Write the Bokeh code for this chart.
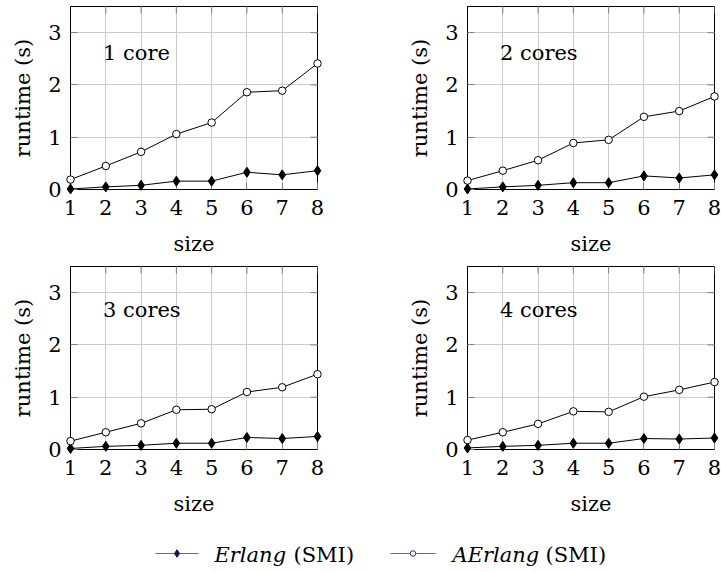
from bokeh.plotting import figure
from bokeh.layouts import column, row
from bokeh.models import FixedTicker, Range1d, Label
from bokeh.embed import file_html
from bokeh.resources import INLINE

# ---- data ----
sizes = [1, 2, 3, 4, 5, 6, 7, 8]
x_ticks = [1, 2, 3, 4, 5, 6, 7, 8]
y_ticks = [0, 1, 2, 3]
panel_titles = ["1 core", "2 cores", "3 cores", "4 cores"]

erlang_1 = [0.01, 0.05, 0.08, 0.16, 0.16, 0.33, 0.28, 0.36]
aerlang_1 = [0.19, 0.45, 0.72, 1.06, 1.28, 1.86, 1.89, 2.41]
erlang_2 = [0.01, 0.05, 0.08, 0.13, 0.13, 0.26, 0.22, 0.28]
aerlang_2 = [0.17, 0.36, 0.56, 0.89, 0.95, 1.39, 1.50, 1.78]
erlang_3 = [0.02, 0.06, 0.08, 0.12, 0.12, 0.23, 0.21, 0.25]
aerlang_3 = [0.16, 0.33, 0.50, 0.76, 0.77, 1.10, 1.19, 1.44]
erlang_4 = [0.03, 0.06, 0.08, 0.12, 0.12, 0.21, 0.20, 0.22]
aerlang_4 = [0.18, 0.33, 0.49, 0.73, 0.72, 1.01, 1.14, 1.29]

series_names = ["Erlang", "AErlang"]
series_suffix = "(SMI)"
x_label = "size"
y_label = "runtime (s)"

X_MIN, X_MAX, Y_MIN, Y_MAX = 1, 8, 0, 3.5
FONT = "DejaVu Serif"
FS = "21px"
GRID = "#cccccc"
TICK = "#7f7f7f"


def style_axis(ax):
    ax.axis_line_color = "black"
    ax.axis_line_width = 1
    ax.major_tick_in = 7
    ax.major_tick_out = 0
    ax.major_tick_line_color = TICK
    ax.minor_tick_line_color = None
    ax.major_label_text_font = FONT
    ax.major_label_text_font_size = FS
    ax.major_label_text_color = "black"
    ax.axis_label_text_font = FONT
    ax.axis_label_text_font_size = FS
    ax.axis_label_text_font_style = "normal"
    ax.axis_label_text_color = "black"


def make_panel(erl, aer, title, title_y, width, height, mb_left, mb_right, mb_top, mb_bottom):
    p = figure(width=width, height=height,
               x_range=Range1d(X_MIN, X_MAX), y_range=Range1d(Y_MIN, Y_MAX),
               output_backend="svg", toolbar_location=None,
               min_border_left=mb_left, min_border_right=mb_right,
               min_border_top=mb_top, min_border_bottom=mb_bottom)
    p.outline_line_color = "black"
    p.outline_line_width = 1
    p.background_fill_color = "white"
    p.border_fill_color = "white"
    p.xaxis.ticker = FixedTicker(ticks=x_ticks)
    p.yaxis.ticker = FixedTicker(ticks=y_ticks)
    for ax in p.axis:
        style_axis(ax)
    p.xaxis.axis_label = x_label
    p.yaxis.axis_label = y_label
    p.xaxis.major_label_standoff = 10
    p.xaxis.axis_label_standoff = 14
    p.yaxis.major_label_standoff = 9
    p.yaxis.axis_label_standoff = 10
    p.xgrid.ticker = FixedTicker(ticks=x_ticks)
    p.ygrid.ticker = FixedTicker(ticks=y_ticks)
    p.grid.grid_line_color = GRID
    p.grid.grid_line_width = 1

    # inward ticks on the right and top edges (half of each dash is clipped away)
    p.scatter([X_MAX] * len(y_ticks), y_ticks, marker="dash", size=14,
              line_color=TICK, line_width=1)
    p.scatter(x_ticks, [Y_MAX] * len(x_ticks), marker="dash", size=14, angle=1.5707963,
              line_color=TICK, line_width=1)

    p.line(sizes, erl, line_color="black", line_width=1)
    p.line(sizes, aer, line_color="black", line_width=1)
    p.scatter(sizes, erl, marker="diamond", size=10, fill_color="black",
              line_color="black", line_width=1, level="overlay")
    p.scatter(sizes, aer, marker="circle", size=7.5, fill_color="white",
              line_color="black", line_width=1, level="overlay")

    p.add_layout(Label(x=1.92, y=title_y, text=title, text_font=FONT,
                       text_font_size=FS, text_color="black",
                       text_baseline="middle", text_align="left"))
    return p


p1 = make_panel(erlang_1, aerlang_1, panel_titles[0], 2.62, 405, 258, 70, 88, 6, 69)
p2 = make_panel(erlang_2, aerlang_2, panel_titles[1], 2.62, 316, 258, 62, 7, 6, 69)
p3 = make_panel(erlang_3, aerlang_3, panel_titles[2], 2.66, 405, 262, 70, 88, 8, 71)
p4 = make_panel(erlang_4, aerlang_4, panel_titles[3], 2.66, 316, 262, 62, 7, 8, 71)

# ---- legend (drawn in pixel space of its own small figure) ----
LW, LH = 721, 52
leg = figure(width=LW, height=LH, x_range=Range1d(0, LW), y_range=Range1d(0, LH),
             output_backend="svg", toolbar_location=None, min_border=0,
             x_axis_location=None, y_axis_location=None)
leg.grid.visible = False
leg.outline_line_color = None
leg.border_fill_color = "white"

LEG_LINE = "#6464aa"
ly = 19
leg.line([155, 198], [ly, ly], line_color=LEG_LINE, line_width=1)
leg.scatter([176.5], [ly], marker="diamond", size=7.5, fill_color="#141452",
            line_color="#141452")
leg.line([390, 435], [ly, ly], line_color=LEG_LINE, line_width=1)
leg.scatter([412.5], [ly], marker="circle", size=5.5, fill_color="white",
            line_color="#26268a", line_width=1)

for x, txt, style in ((214, series_names[0], "italic"), (293, series_suffix, "normal"),
                      (452, series_names[1], "italic"), (545, series_suffix, "normal")):
    leg.add_layout(Label(x=x, y=18, text=txt, text_font=FONT, text_font_size=FS,
                         text_font_style=style, text_color="black",
                         text_baseline="middle", text_align="left"))

layout = column(row(p1, p2), row(p3, p4), leg)

open("out.html", "w").write(file_html(layout, INLINE))
